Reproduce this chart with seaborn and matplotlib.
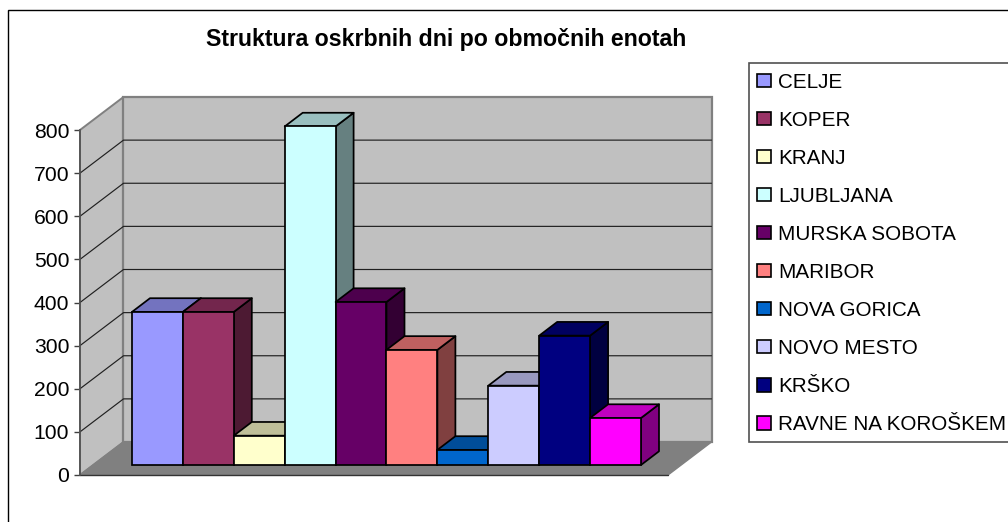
import matplotlib
matplotlib.use("Agg")
import matplotlib.pyplot as plt
from matplotlib.patches import Polygon, Patch, Rectangle
from matplotlib.colors import to_rgb
import numpy as np
import pandas as pd
import seaborn as sns

regions = ["CELJE", "KOPER", "KRANJ", "LJUBLJANA", "MURSKA SOBOTA", "MARIBOR",
           "NOVA GORICA", "NOVO MESTO", "KRŠKO", "RAVNE NA KOROŠKEM"]
days = [355, 355, 68, 785, 378, 267, 35, 184, 300, 109]
colors = ["#9999FF", "#993366", "#FFFFCC", "#CCFFFF", "#660066",
          "#FF8080", "#0066CC", "#CCCCFF", "#000080", "#FF00FF"]
y_ticks = [0, 100, 200, 300, 400, 500, 600, 700, 800]
title = "Struktura oskrbnih dni po območnih enotah"

W, H = 1008, 522
FONT = "Liberation Sans"
sns.set_theme(style="white")
plt.rcParams["font.family"] = FONT

fig = plt.figure(figsize=(W / 100, H / 100), dpi=100, facecolor="white")


def box(left, right, top, bottom):
    return [left / W, 1 - bottom / H, (right - left) / W, (bottom - top) / H]


# outer chart frame (runs off the right and bottom of the picture)
fig.add_artist(Rectangle((8 / W, -0.05), 1.1, 1.05 - 9.5 / H, transform=fig.transFigure,
                         fill=False, edgecolor="black", lw=1.0))
# legend frame (runs off the right of the picture)
fig.add_artist(Rectangle((749 / W, 1 - 442 / H), 1.1, (442 - 63) / H, transform=fig.transFigure,
                         facecolor="white", edgecolor="#505050", lw=1.2))

# px geometry of the frame
FRONT_L, FRONT_R, FRONT_B, FRONT_T = 80, 668, 475, 130
PX_PER_CAT = 50.9
BAR0_LEFT = 132
FLOOR_DX, FLOOR_DY = 43.5, 33.0       # depth of the floor / walls
SHIFT_DX, SHIFT_DY = 13.0, 10.0       # bars stand inside the floor
BAR_DX, BAR_DY = 18.0, 13.7           # depth of one bar

ax = fig.add_axes(box(FRONT_L, FRONT_R, FRONT_T, FRONT_B), facecolor="none", zorder=1)
xlo = -0.5 - (BAR0_LEFT - SHIFT_DX - FRONT_L) / PX_PER_CAT
xhi = xlo + (FRONT_R - FRONT_L) / PX_PER_CAT
ylim = (y_ticks[0], y_ticks[-1])
ax.set_xlim(xlo, xhi)
ax.set_ylim(*ylim)
px_per_val = (FRONT_B - FRONT_T) / (ylim[1] - ylim[0])

ddx, ddy = FLOOR_DX / PX_PER_CAT, FLOOR_DY / px_per_val
WALL = "#C0C0C0"
EDGE = "#808080"
ax.add_patch(Polygon([(xlo, 0), (xlo + ddx, ddy), (xlo + ddx, ylim[1] + ddy), (xlo, ylim[1])],
                     facecolor=WALL, edgecolor=EDGE, lw=1.4, clip_on=False, zorder=1))
ax.add_patch(Polygon([(xlo + ddx, ddy), (xhi + ddx, ddy), (xhi + ddx, ylim[1] + ddy), (xlo + ddx, ylim[1] + ddy)],
                     facecolor=WALL, edgecolor=EDGE, lw=1.6, clip_on=False, zorder=1))
for v in y_ticks[1:-1]:
    ax.plot([xlo, xlo + ddx, xhi + ddx], [v, v + ddy, v + ddy], color="#202020", lw=0.85,
            clip_on=False, zorder=2)
ax.add_patch(Polygon([(xlo, 0), (xlo + ddx, ddy), (xhi + ddx, ddy), (xhi, 0)],
                     facecolor="#808080", edgecolor="#808080", lw=1.0, clip_on=False, zorder=3))
ax.plot([xlo, xhi], [0, 0], color="#333333", lw=1.0, clip_on=False, zorder=4)

ax.set_xticks([])
ax.set_yticks(y_ticks)
ax.tick_params(axis="y", length=4.3, width=1.0, color="#404040", labelsize=15.2, pad=3.4,
               labelcolor="black", left=True)
for s in ["top", "right", "bottom"]:
    ax.spines[s].set_visible(False)
ax.spines["left"].set_color("#505050")
ax.spines["left"].set_linewidth(1.2)
ax.spines["left"].set_zorder(5)

# bars: same scale as the frame, shifted into the floor
bx = fig.add_axes(box(FRONT_L + SHIFT_DX, FRONT_R + SHIFT_DX, FRONT_T - SHIFT_DY, FRONT_B - SHIFT_DY),
                  facecolor="none", zorder=2)
df = pd.DataFrame({"region": regions, "days": days})
LW = 1.25
sns.barplot(data=df, x="region", y="days", hue="region", order=regions, hue_order=regions,
            palette=colors, saturation=1, width=1, dodge=False, legend=False,
            edgecolor="black", linewidth=LW, ax=bx, clip_on=False)
bx.set_xlim(xlo, xhi)
bx.set_ylim(*ylim)
bx.axis("off")

bdx, bdy = BAR_DX / PX_PER_CAT, BAR_DY / px_per_val
bars = sorted([p for p in bx.patches if p.get_width() > 0], key=lambda p: p.get_x())
for i, (p, col) in enumerate(zip(bars, colors)):
    x0, x1, h = p.get_x(), p.get_x() + p.get_width(), p.get_height()
    c = np.array(to_rgb(col))
    bx.add_patch(Polygon([(x1, 0), (x1 + bdx, bdy), (x1 + bdx, h + bdy), (x1, h)],
                         facecolor=c * 0.5, edgecolor="black", lw=LW, joinstyle="round",
                         clip_on=False, zorder=10 + 3 * i))
    bx.add_patch(Polygon([(x0, h), (x0 + bdx, h + bdy), (x1 + bdx, h + bdy), (x1, h)],
                         facecolor=c * 0.75, edgecolor="black", lw=LW, joinstyle="round",
                         clip_on=False, zorder=11 + 3 * i))
    p.set_zorder(12 + 3 * i)

# legend
handles = [Patch(facecolor=c, edgecolor="black", lw=1.2, label=r) for r, c in zip(regions, colors)]
fs = 14.85
leg = fig.legend(handles=handles, loc="upper left", bbox_to_anchor=(756.5 / W, 1 - 72.5 / H),
                 bbox_transform=fig.transFigure, fontsize=fs, frameon=False, borderaxespad=0,
                 borderpad=0, handlelength=0.72, handleheight=0.62, handletextpad=0.32,
                 labelspacing=0.925)
for t in leg.get_texts():
    t.set_color("black")

fig.text(446 / W, 1 - 46 / H, title, ha="center", va="baseline", fontsize=16.7,
         fontweight="bold", color="black")

fig.savefig("out.png", dpi=100, facecolor="white")
